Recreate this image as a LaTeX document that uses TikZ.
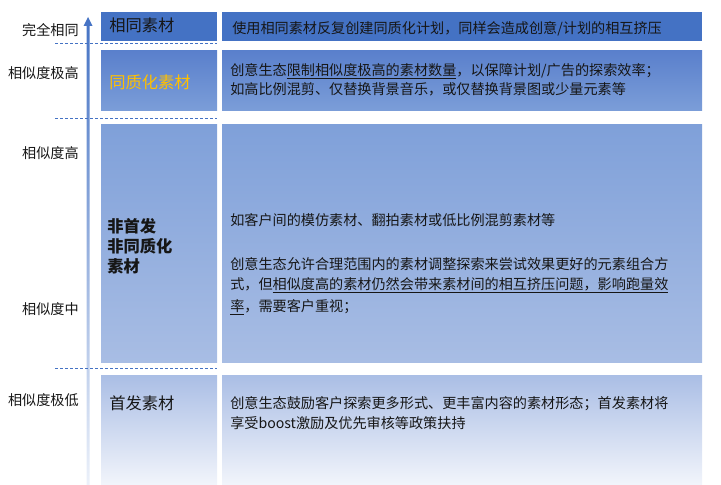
\documentclass[tikz,border=0pt]{standalone}
\usepackage{fontspec}
\setmainfont{Noto Sans CJK SC}
\usepackage{xcolor}
\usepackage{tikz}

\definecolor{rowone}{RGB}{68,114,196}
\definecolor{rtwotop}{RGB}{90,128,204}
\definecolor{rtwobot}{RGB}{123,157,216}
\definecolor{rthreetop}{RGB}{127,160,217}
\definecolor{rthreebot}{RGB}{168,189,228}
\definecolor{rfourtop}{RGB}{170,190,229}
\definecolor{rfourbot}{RGB}{242,245,251}
\definecolor{axistopc}{RGB}{68,114,196}
\definecolor{axisbotc}{RGB}{236,241,250}
\definecolor{txtgray}{RGB}{22,22,22}
\definecolor{ttlgold}{RGB}{255,192,0}

\tikzset{
  lbl/.style={anchor=base east, inner sep=0.75pt, text=txtgray, font=\fontsize{10.6}{12}\selectfont},
  ttl/.style={anchor=base west, inner sep=0.75pt, text=txtgray, font=\fontsize{12.2}{14}\selectfont},
  desc/.style={anchor=base west, inner sep=0.75pt, text=txtgray, font=\fontsize{10.6}{12}\selectfont},
  sepline/.style={rowone, line width=0.75, dash pattern=on 2.25pt off 1.5pt},
}

\begin{document}
\begin{tikzpicture}[x=0.75pt,y=0.75pt,yscale=-1,xscale=1]
\useasboundingbox (0,0) rectangle (721,485);

%Shaded Arrow
\shade[top color=axistopc, bottom color=axisbotc] (86.5,485) -- (86.5,26) -- (83.5,26) -- (88,17) -- (92.5,26) -- (89.5,26) -- (89.5,485) -- cycle;

%Row 1
\fill[rowone] (101,12) rectangle (217,41);
\fill[rowone] (222,12) rectangle (702,41);
%Rows 2 to 4
\foreach \ya/\yb/\ct/\cb in {51/110/rtwotop/rtwobot, 124/362/rthreetop/rthreebot, 375/485/rfourtop/rfourbot}{
  \shade[top color=\ct, bottom color=\cb] (101,\ya) rectangle (217,\yb);
  \shade[top color=\ct, bottom color=\cb] (222,\ya) rectangle (702,\yb);
}

%Dashed Lines
\foreach \y in {44,118,368}
  \draw[sepline] (55,\y) -- (217,\y);

% Text Node
\node[lbl] (same) at (80,36) {完全相同};
\node[lbl] (vhigh) at (80,79) {相似度极高};
\node[lbl] (high) at (80,158) {相似度高};
\node[lbl] (mid) at (80,314) {相似度中};
\node[lbl] (vlow) at (80,405) {相似度极低};

% Text Node
\node[ttl] (tsame) at (108,32) {相同素材};
\node[ttl, text=ttlgold] (thomo) at (108,89) {同质化素材};
\node[ttl, font=\fontsize{12.2}{14}\selectfont\bfseries] (tnona) at (106,232) {非首发};
\node[ttl, font=\fontsize{12.2}{14}\selectfont\bfseries] (tnonb) at (106,252) {非同质化};
\node[ttl, font=\fontsize{12.2}{14}\selectfont\bfseries] (tnonc) at (106,272) {素材};
\node[ttl] (tfirst) at (108,409) {首发素材};

% Text Node
\node[desc] (dsame) at (231,34) {使用相同素材反复创建同质化计划，同样会造成创意/计划的相互挤压};
\node[desc] (dhomoa) at (229,75) {创意生态\underline{限制相似度极高的素材数量}，以保障计划/广告的探索效率；};
\node[desc] (dhomob) at (229,94) {如高比例混剪、仅替换背景音乐，或仅替换背景图或少量元素等};
\node[desc] (dnona) at (229,225) {如客户间的模仿素材、翻拍素材或低比例混剪素材等};
\node[desc] (dnonb) at (229,269) {创意生态允许合理范围内的素材调整探索来尝试效果更好的元素组合方};
\node[desc] (dnonc) at (229,289) {式，但\underline{相似度高的素材仍然会带来素材间的相互挤压问题，影响跑量效}};
\node[desc] (dnond) at (229,311) {\underline{率}，需要客户重视；};
\node[desc] (dfirsta) at (229,408) {创意生态鼓励客户探索更多形式、更丰富内容的素材形态；首发素材将};
\node[desc] (dfirstb) at (229,428) {享受boost激励及优先审核等政策扶持};

\end{tikzpicture}
\end{document}
